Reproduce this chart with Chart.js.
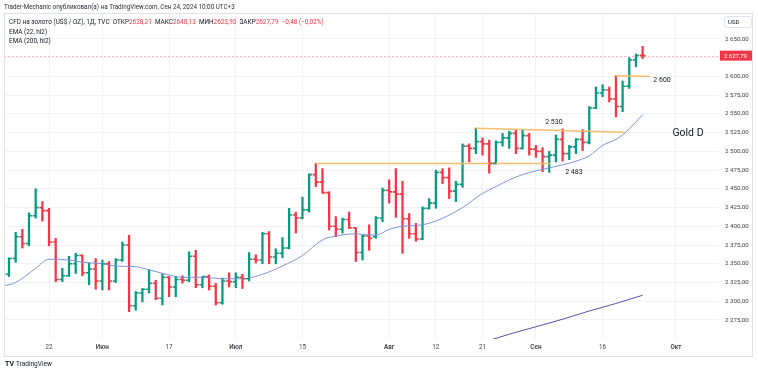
<!DOCTYPE html>
<html>
<head>
<meta charset="utf-8">
<script src="https://cdn.jsdelivr.net/npm/chart.js@4.4.1/dist/chart.umd.min.js"></script>
<style>
  html, body { margin: 0; padding: 0; background: #fff; }
  #wrap { width: 758px; height: 372px; }
</style>
</head>
<body>
<div id="wrap"><canvas id="gold" width="758" height="372"></canvas></div>
<script>
// дневные бары, индекс 0 = 13 мая 2024 (только торговые дни)
const opens = [
  2360, 2336, 2357, 2386, 2377, 2414, 2425, 2421, 2379, 2329,
  2334, 2350, 2361, 2338, 2343, 2327, 2350, 2327, 2355, 2375,
  2294, 2311, 2316, 2324, 2304, 2332, 2319, 2329, 2328, 2360,
  2322, 2333, 2320, 2298, 2327, 2326, 2332, 2330, 2356, 2355,
  2390, 2359, 2364, 2371, 2415, 2411, 2422, 2469, 2459, 2445,
  2400, 2396, 2409, 2398, 2365, 2387, 2386, 2411, 2448, 2446,
  2443, 2410, 2390, 2383, 2424, 2431, 2472, 2465, 2447, 2456,
  2507, 2504, 2513, 2510, 2484, 2512, 2518, 2524, 2504, 2521,
  2503, 2500, 2493, 2495, 2516, 2497, 2506, 2516, 2512, 2558,
  2578, 2582, 2570, 2560, 2587, 2622, 2628.21
];
const highs = [
  2364, 2358, 2392, 2396, 2418, 2450, 2433, 2424, 2384, 2344,
  2360, 2364, 2362, 2351, 2357, 2355, 2353, 2357, 2379, 2388,
  2313, 2317, 2342, 2328, 2337, 2333, 2333, 2334, 2366, 2368,
  2333, 2335, 2324, 2331, 2338, 2338, 2336, 2365, 2362, 2392,
  2393, 2370, 2385, 2424, 2419, 2439, 2470, 2484, 2477, 2446,
  2413, 2411, 2419, 2398, 2388, 2402, 2413, 2451, 2462, 2477,
  2460, 2417, 2404, 2426, 2437, 2475, 2477, 2478, 2460, 2510,
  2510, 2531, 2518, 2515, 2514, 2524, 2527, 2529, 2529, 2524,
  2508, 2505, 2500, 2522, 2530, 2508, 2517, 2529, 2560, 2586,
  2589, 2586, 2601, 2594, 2625, 2630, 2640.13
];
const lows = [
  2332, 2333, 2352, 2371, 2374, 2411, 2407, 2374, 2326, 2326,
  2333, 2337, 2334, 2322, 2316, 2315, 2315, 2325, 2353, 2286,
  2288, 2299, 2311, 2302, 2295, 2306, 2306, 2324, 2326, 2318,
  2318, 2315, 2295, 2296, 2319, 2318, 2317, 2327, 2351, 2350,
  2350, 2350, 2358, 2370, 2391, 2410, 2419, 2453, 2444, 2395,
  2386, 2391, 2397, 2353, 2355, 2368, 2384, 2406, 2431, 2412,
  2364, 2384, 2380, 2382, 2423, 2424, 2457, 2437, 2433, 2452,
  2486, 2497, 2495, 2471, 2483, 2507, 2504, 2497, 2503, 2495,
  2492, 2473, 2472, 2486, 2487, 2489, 2497, 2501, 2510, 2557,
  2573, 2566, 2546, 2553, 2584, 2613, 2623.93
];
const closes = [
  2336, 2357, 2386, 2377, 2414, 2425, 2421, 2379, 2329, 2334,
  2350, 2361, 2338, 2343, 2327, 2350, 2327, 2355, 2375, 2294,
  2311, 2316, 2324, 2304, 2332, 2319, 2329, 2328, 2360, 2322,
  2333, 2320, 2298, 2327, 2326, 2332, 2330, 2356, 2355, 2390,
  2359, 2364, 2371, 2415, 2411, 2422, 2469, 2459, 2445, 2400,
  2396, 2409, 2398, 2365, 2387, 2384, 2411, 2448, 2446, 2443,
  2410, 2390, 2383, 2424, 2431, 2472, 2465, 2447, 2456, 2507,
  2504, 2513, 2510, 2484, 2512, 2518, 2524, 2504, 2521, 2503,
  2500, 2493, 2495, 2516, 2497, 2506, 2516, 2512, 2558, 2578,
  2582, 2570, 2560, 2587, 2622, 2628, 2627.79
];

// метки шкалы времени (по индексу торгового дня)
const timeTicks = [7, 15, 25, 35, 45, 58, 65, 72, 80, 90, 101];
const timeLabels = ['22', 'Июн', '17', 'Июл', '15', 'Авг', '12', '21', 'Сен', '16', 'Окт'];
const priceTicks = [2275, 2300, 2325, 2350, 2375, 2400, 2425, 2450, 2475, 2500, 2525, 2550, 2575, 2600, 2625, 2650];

// EMA
const ema22Days = [0, 2, 5, 7, 10, 12, 15, 17, 20, 22, 25, 27, 30, 33, 36, 39, 42, 45, 48, 50, 53, 56, 58, 60, 63, 65, 67, 69, 72, 74, 76, 78, 80, 82, 84, 86, 88, 90, 92, 93, 94, 96];
const ema22Values = [2320, 2325, 2344, 2356, 2355, 2352, 2350, 2347, 2346, 2342, 2335, 2332, 2332, 2330, 2330, 2336, 2347, 2361, 2382, 2387, 2390, 2388, 2396, 2400, 2402, 2407, 2415, 2425, 2444, 2453, 2462, 2469, 2474, 2478, 2482, 2487, 2494, 2508, 2516, 2522, 2530, 2549];
const ema200Days = [72, 76, 80, 84, 88, 92, 96];
const ema200Values = [2245, 2256, 2266, 2276, 2287, 2297, 2308];

// уровни автора: день начала, цена, день конца, цена
const levelLines = [
  [47, 2484, 82.1, 2484],
  [71, 2531, 93.2, 2525.5],
  [92, 2601, 97.2, 2600]
];
const noteTexts = ['2 530', '2 483', '2 600', 'Gold D'];
const noteDays = [82.7, 85.7, 97.6, 102.8];
const notePrices = [2539, 2472.5, 2595, 2524.5];

const UP = '#089981';
const DOWN = '#f23645';
const TEXT = '#131722';
const GRID = '#f0f2f6';
const FONT = 'Roboto, "Liberation Sans", sans-serif';

const days = opens.map((_, i) => i);
const lastClose = closes[closes.length - 1];

function fmtPrice(v) {
  return v.toFixed(2).replace('.', ',').replace(/\B(?=(\d{3})+(?!\d))/, ' ');
}

const extras = {
  id: 'extras',
  beforeDatasetsDraw(chart) {
    const { ctx, chartArea: a, scales: { y } } = chart;
    // пунктир текущей цены
    const py = Math.round(y.getPixelForValue(lastClose)) + 0.5;
    ctx.save();
    ctx.strokeStyle = 'rgba(242,54,69,0.35)';
    ctx.lineWidth = 1;
    ctx.setLineDash([2, 2]);
    ctx.beginPath();
    ctx.moveTo(a.left, py);
    ctx.lineTo(a.right, py);
    ctx.stroke();
    ctx.restore();
  },
  afterDatasetsDraw(chart) {
    const { ctx, chartArea: a, scales: { x, y } } = chart;
    ctx.save();
    ctx.beginPath();
    ctx.rect(a.left, a.top, a.right - a.left, a.bottom - a.top);
    ctx.clip();
    // засечки открытия / закрытия
    ctx.lineWidth = 1.6;
    days.forEach((i) => {
      const px = x.getPixelForValue(i);
      const yo = y.getPixelForValue(opens[i]);
      const yc = y.getPixelForValue(closes[i]);
      ctx.strokeStyle = closes[i] >= opens[i] ? UP : DOWN;
      ctx.beginPath();
      ctx.moveTo(px - 3, yo);
      ctx.lineTo(px, yo);
      ctx.moveTo(px, yc);
      ctx.lineTo(px + 3, yc);
      ctx.stroke();
    });
    // подписи уровней
    ctx.fillStyle = TEXT;
    ctx.textBaseline = 'middle';
    noteTexts.forEach((t, k) => {
      ctx.font = (t === 'Gold D' ? '10.5px ' : '7px ') + FONT;
      ctx.textAlign = t === '2 600' ? 'left' : 'center';
      ctx.fillText(t, x.getPixelForValue(noteDays[k]), y.getPixelForValue(notePrices[k]));
    });
    ctx.restore();
  },
  afterDraw(chart) {
    const { ctx, scales: { y } } = chart;
    ctx.save();
    // рамка панели
    ctx.strokeStyle = '#e0e3eb';
    ctx.lineWidth = 1;
    ctx.strokeRect(4.5, 13.5, 748, 343);

    // шапка
    ctx.textBaseline = 'middle';
    ctx.textAlign = 'left';
    ctx.font = '6.3px ' + FONT;
    ctx.fillStyle = '#2a2e39';
    ctx.fillText('Trader-Mechanic опубликовал(а) на TradingView.com, Сен 24, 2024 10:00 UTC+3', 4, 7);

    // легенда
    const parts = [
      ['CFD на золото (US$ / OZ), 1Д, TVC  ', TEXT],
      ['ОТКР', TEXT], [fmtPrice(opens[96]).replace(' ', ''), DOWN],
      ['  МАКС', TEXT], [fmtPrice(highs[96]).replace(' ', ''), DOWN],
      ['  МИН', TEXT], [fmtPrice(lows[96]).replace(' ', ''), DOWN],
      ['  ЗАКР', TEXT], [fmtPrice(lastClose).replace(' ', ''), DOWN],
      ['  −0,48 (−0,02%)', DOWN]
    ];
    ctx.font = '6.4px ' + FONT;
    let lx = 9;
    parts.forEach(([t, c]) => {
      ctx.fillStyle = c;
      ctx.fillText(t, lx, 22.5);
      lx += ctx.measureText(t).width;
    });
    ctx.fillStyle = TEXT;
    ctx.fillText('EMA (22, hl2)', 9, 32);
    ctx.fillText('EMA (200, hl2)', 9, 41.5);

    // USD
    ctx.strokeStyle = '#e0e3eb';
    ctx.beginPath();
    ctx.roundRect(724.5, 16.5, 27, 11, 2);
    ctx.stroke();
    ctx.fillStyle = TEXT;
    ctx.font = '6px ' + FONT;
    ctx.fillText('USD', 728, 22.5);

    // метка последней цены
    const py = y.getPixelForValue(lastClose);
    ctx.fillStyle = DOWN;
    ctx.fillRect(720, py - 5, 32, 10);
    ctx.fillStyle = '#ffffff';
    ctx.fillText(fmtPrice(lastClose), 724, py + 0.5);

    // логотип
    ctx.fillStyle = TEXT;
    ctx.font = 'bold 7px ' + FONT;
    ctx.fillText('TV', 5, 364);
    ctx.font = '6.5px ' + FONT;
    ctx.fillText('TradingView', 16, 364);
    ctx.restore();
  }
};

new Chart(document.getElementById('gold'), {
  type: 'bar',
  data: {
    datasets: [
      {
        type: 'bar',
        data: days.map((i) => ({ x: i, y: [lows[i], highs[i]] })),
        backgroundColor: days.map((i) => (closes[i] >= opens[i] ? UP : DOWN)),
        barThickness: 1.6,
        grouped: false,
        order: 2
      },
      {
        type: 'line',
        data: ema22Days.map((d, k) => ({ x: d, y: ema22Values[k] })),
        borderColor: '#7f92d6',
        borderWidth: 1,
        pointRadius: 0,
        cubicInterpolationMode: 'monotone',
        order: 1
      },
      {
        type: 'line',
        data: ema200Days.map((d, k) => ({ x: d, y: ema200Values[k] })),
        borderColor: '#5b4fa3',
        borderWidth: 1,
        pointRadius: 0,
        cubicInterpolationMode: 'monotone',
        order: 1
      },
      ...levelLines.map((l) => ({
        type: 'line',
        data: [{ x: l[0], y: l[1] }, { x: l[2], y: l[3] }],
        borderColor: '#f7bd6b',
        borderWidth: 1.5,
        pointRadius: 0,
        order: 0
      }))
    ]
  },
  options: {
    responsive: false,
    animation: false,
    events: [],
    layout: { padding: { left: 4, top: 13, right: 0, bottom: 15 } },
    plugins: { legend: { display: false }, tooltip: { enabled: false } },
    scales: {
      x: {
        type: 'linear',
        min: 0.25,
        max: 107.3,
        offset: false,
        grid: { color: GRID, drawTicks: false, offset: false },
        border: { display: false },
        afterBuildTicks: (s) => { s.ticks = timeTicks.map((v) => ({ value: v })); },
        afterFit: (s) => { s.height = 18; },
        ticks: {
          autoSkip: false,
          maxRotation: 0,
          padding: 5,
          color: '#3b3f4a',
          font: (c) => ({ family: FONT, size: 6.3, weight: timeLabels[c.index] && timeLabels[c.index].length > 2 ? '600' : 'normal' }),
          callback: (v) => timeLabels[timeTicks.indexOf(v)]
        }
      },
      y: {
        type: 'linear',
        position: 'right',
        min: 2249.6,
        max: 2684.7,
        grid: { color: GRID, drawTicks: false },
        border: { display: false },
        afterBuildTicks: (s) => { s.ticks = priceTicks.map((v) => ({ value: v })); },
        afterFit: (s) => { s.width = 40; },
        ticks: {
          padding: 7,
          color: '#3b3f4a',
          font: { family: FONT, size: 6.2 },
          callback: (v) => fmtPrice(v)
        }
      }
    }
  },
  plugins: [extras]
});
</script>
</body>
</html>
